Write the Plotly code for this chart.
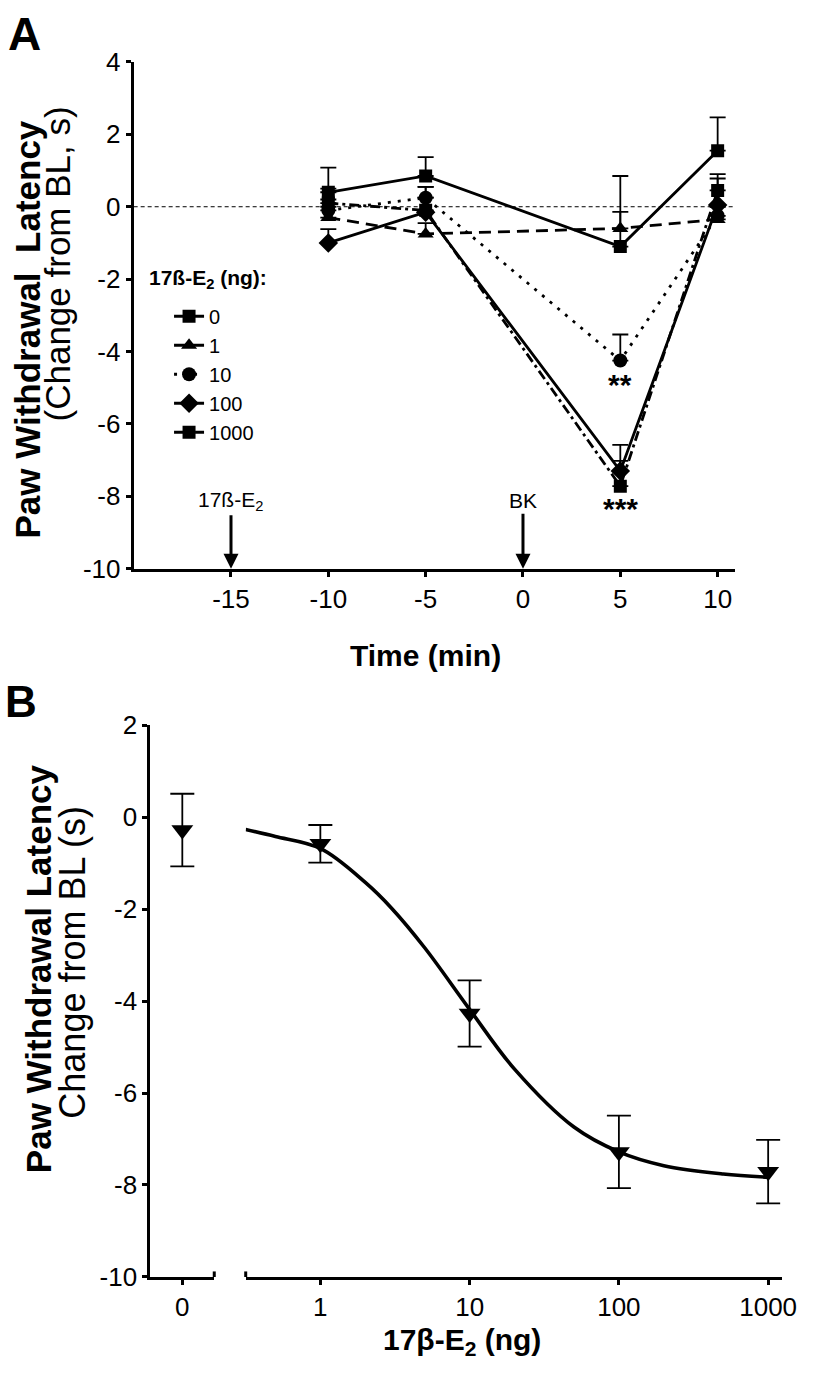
import plotly.graph_objects as go

# ---------------- data ----------------
# Panel A: time course (min relative to BK injection)
time_min = [-10, -5, 5, 10]
time_ticks = [-15, -10, -5, 0, 5, 10]
dose_labels = ["0", "1", "10", "100", "1000"]
pwl_0 = [0.40, 0.85, -1.10, 1.55]
sem_0 = [0.68, 0.52, 1.95, 0.92]
pwl_1 = [-0.30, -0.75, -0.60, -0.35]
sem_1 = [0.30, 0.30, 0.46, 0.35]
pwl_10 = [-0.10, 0.25, -4.25, -0.25]
sem_10 = [0.30, 0.30, 0.72, 0.30]
pwl_100 = [-1.00, -0.15, -7.30, 0.05]
sem_100 = [0.38, 0.70, 0.72, 0.73]
pwl_1000 = [0.10, -0.10, -7.72, 0.45]
sem_1000 = [0.40, 0.35, 0.70, 0.45]
y_ticks_a = [-10, -8, -6, -4, -2, 0, 2, 4]

# Panel B: dose-response at t = 5 min
vehicle_label = ["0"]
vehicle_mean = [-0.28]
vehicle_sem = [0.79]
dose_ng = [1, 10, 100, 1000]
dr_mean = [-0.58, -4.27, -7.28, -7.71]
dr_sem = [0.41, 0.72, 0.79, 0.69]
y_ticks_b = [-10, -8, -6, -4, -2, 0, 2]
# fitted curve
fit_x = [0.316, 0.5, 1, 2, 3, 5, 10, 20, 50, 100, 200, 500, 1000]
fit_y = [-0.27, -0.42, -0.68, -1.42, -1.98, -2.84, -4.18, -5.48, -6.74, -7.28, -7.58, -7.76, -7.83]

# ---------------- layout helpers ----------------
W, H = 816, 1380
FONT = "Liberation Sans, Arial, sans-serif"
def fx(p):
    return p / W
def fy(p):
    return 1 - p / H
def lab(v):
    return str(v)  # plain hyphen minus, as in the original

fig = go.Figure()

styles = [
    ("0", pwl_0, sem_0, "square", 13, "solid"),
    ("1", pwl_1, sem_1, "triangle-up", 14, "12px,7px"),
    ("10", pwl_10, sem_10, "circle", 14, "3px,7px"),
    ("100", pwl_100, sem_100, "diamond", 15, "solid"),
    ("1000", pwl_1000, sem_1000, "square", 13, "10px,4px,3px,4px"),
]
for name, ys, es, sym, sz, dash in styles:
    fig.add_trace(go.Scatter(
        x=time_min, y=ys, name=name, mode="lines+markers",
        line=dict(color="black", width=2.8, dash=dash),
        marker=dict(symbol=sym, size=sz, color="black"),
        error_y=dict(type="data", array=es, arrayminus=[0] * len(es), symmetric=False,
                     color="black", thickness=1.8, width=8),
        xaxis="x", yaxis="y", showlegend=True,
    ))

# Panel B
fig.add_trace(go.Scatter(
    x=[0], y=vehicle_mean, mode="markers", showlegend=False,
    marker=dict(symbol="triangle-down", size=19, color="black"),
    error_y=dict(type="data", array=vehicle_sem, color="black", thickness=1.8, width=12),
    xaxis="x2", yaxis="y2",
))
fig.add_trace(go.Scatter(
    x=fit_x, y=fit_y, mode="lines", showlegend=False, line_shape="spline",
    line=dict(color="black", width=3.6),
    xaxis="x3", yaxis="y2",
))
fig.add_trace(go.Scatter(
    x=dose_ng, y=dr_mean, mode="markers", showlegend=False,
    marker=dict(symbol="triangle-down", size=19, color="black"),
    error_y=dict(type="data", array=dr_sem, color="black", thickness=1.8, width=12),
    xaxis="x3", yaxis="y2",
))

axis_common = dict(showline=True, linecolor="black", linewidth=3, ticks="outside",
                   ticklen=5, tickwidth=3, tickcolor="black", showgrid=False,
                   zeroline=False, tickfont=dict(family=FONT, size=26, color="black"))

fig.update_layout(
    width=W, height=H, margin=dict(l=0, r=0, t=0, b=0),
    paper_bgcolor="white", plot_bgcolor="white",
    font=dict(family=FONT, color="black"),
    xaxis=dict(domain=[fx(136), fx(748)], range=[-20, 10.9],
               tickvals=time_ticks, ticktext=[lab(v) for v in time_ticks],
               anchor="y", **axis_common),
    yaxis=dict(domain=[fy(566), fy(48)], range=[-10, 4],
               tickvals=y_ticks_a, ticktext=[lab(v) for v in y_ticks_a],
               anchor="x", **axis_common),
    xaxis2=dict(domain=[fx(153), fx(218)], range=[-1, 1], tickvals=[0],
                ticktext=vehicle_label, anchor="y2", **axis_common),
    yaxis2=dict(domain=[fy(1290), fy(726)], range=[-10, 2],
                tickvals=y_ticks_b, ticktext=[lab(v) for v in y_ticks_b],
                anchor="x2", **axis_common),
    xaxis3=dict(domain=[fx(250), fx(796)], type="log", range=[-0.5, 3.095],
                tickvals=dose_ng, ticktext=[str(d) for d in dose_ng],
                anchor="y2", **axis_common),
    legend=dict(x=fx(172), y=fy(288), xanchor="left", yanchor="top",
                font=dict(family=FONT, size=20, color="black"),
                bgcolor="rgba(0,0,0,0)", itemwidth=30, tracegroupgap=0,
                borderwidth=0),
)

# dashed zero line in panel A
fig.add_shape(type="line", xref="x", yref="y", x0=-20, x1=10.9, y0=0, y1=0,
              line=dict(color="black", width=1, dash="4px,3px"))

# axis-break end marks in panel B
for xr, xv in [("x2 domain", 1), ("x3 domain", 0)]:
    fig.add_shape(type="line", xref=xr, yref="y2", x0=xv, x1=xv, y0=-10.12, y1=-9.88,
                  line=dict(color="black", width=3))

def txt(x, y, text, size, bold=False, angle=0, xref="paper", yref="paper"):
    return dict(x=x, y=y, xref=xref, yref=yref, text=f"<b>{text}</b>" if bold else text,
                showarrow=False, textangle=angle, xanchor="center", yanchor="middle",
                font=dict(family=FONT, size=size, color="black"))

ann = []
# event arrows
for xv, t in [(-15, "17ß-E<sub>2</sub>"), (0, "BK")]:
    ann.append(dict(x=xv, y=-10, xref="x", yref="y", text=t, showarrow=True,
                    ax=0, ay=-68, arrowhead=2, arrowsize=1, arrowwidth=3,
                    arrowcolor="black", font=dict(family=FONT, size=21, color="black")))
# significance marks
ann.append(txt(5, -4.92, "**", 30, bold=True, xref="x", yref="y"))
ann.append(txt(5, -8.35, "***", 30, bold=True, xref="x", yref="y"))
# legend title
ann.append(dict(x=fx(150), y=fy(270), xref="paper", yref="paper", showarrow=False,
                text="<b>17ß-E<sub>2</sub> (ng):</b>", xanchor="left", yanchor="middle",
                font=dict(family=FONT, size=21, color="black")))
# panel letters
ann.append(txt(fx(25), fy(19), "A", 46, bold=True))
ann.append(txt(fx(21), fy(702), "B", 44, bold=True))
# axis titles panel A
ann.append(txt(fx(27), fy(322), "Paw Withdrawal  Latency", 35, bold=True, angle=-90))
ann.append(txt(fx(58), fy(255), "(Change from BL, s)", 35, angle=-90))
ann.append(txt(fx(433), fy(655), "Time (min)", 30, bold=True))
# axis titles panel B
ann.append(txt(fx(39), fy(975), "Paw Withdrawal Latency", 35, bold=True, angle=-90))
ann.append(txt(fx(74), fy(968), "Change from BL (s)", 36, angle=-90))
ann.append(txt(fx(470), fy(1356), "17β-E<sub>2</sub> (ng)", 30, bold=True))
fig.update_layout(annotations=ann)

fig.write_html("out.html", config={"displayModeBar": False},
               post_script="document.body.style.margin='0';document.body.style.overflow='hidden';")
